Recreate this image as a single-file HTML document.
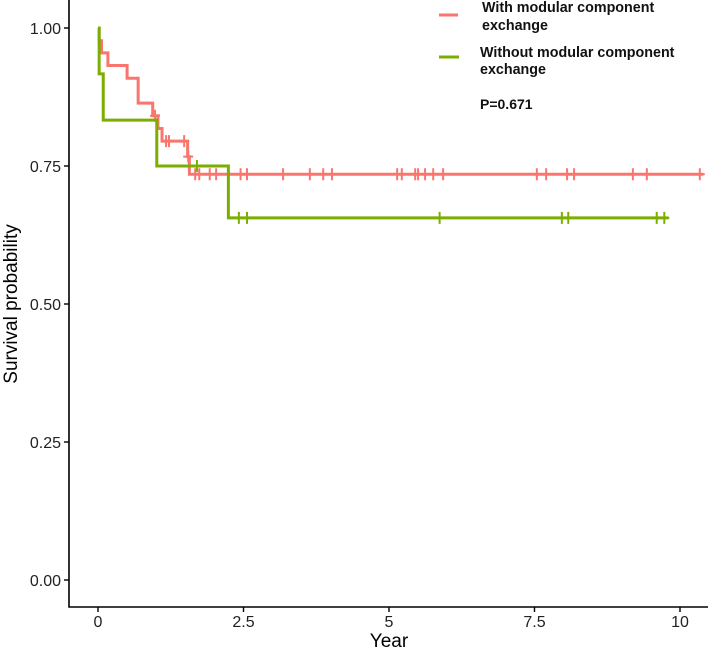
<!DOCTYPE html>
<html><head><meta charset="utf-8"><style>
body{margin:0;background:#fff;}
svg{display:block;font-family:"Liberation Sans",Arial,sans-serif;}
</style></head><body>
<svg id="chart" width="708" height="652" viewBox="0 0 708 652" xmlns="http://www.w3.org/2000/svg"></svg>
<script>
const xTicks=[0,2.5,5,7.5,10];
const xTickLabels=["0","2.5","5","7.5","10"];
const yTicks=[0,0.25,0.5,0.75,1];
const yTickLabels=["0.00","0.25","0.50","0.75","1.00"];
const withTimes=[0,0.02,0.06,0.17,0.50,0.69,0.94,1.03,1.10,1.54,1.57,10.4];
const withSurv=[1,0.977,0.955,0.932,0.909,0.864,0.841,0.818,0.795,0.767,0.735,0.735];
const withCensor=[0.98,1.17,1.22,1.48,1.55,1.67,1.74,1.92,2.03,2.45,2.56,3.18,3.64,3.87,4.02,5.14,5.22,5.45,5.50,5.62,5.76,5.93,7.54,7.70,8.06,8.18,9.19,9.43,10.34];
const withoutTimes=[0,0.02,0.09,1.01,2.24,9.8];
const withoutSurv=[1,0.917,0.833,0.75,0.656,0.656];
const withoutCensor=[1.70,2.42,2.56,5.87,7.97,8.08,9.60,9.73];

const NS="http://www.w3.org/2000/svg";
const svg=document.getElementById('chart');
const X=t=>98+t*58.2;
const Y=v=>580-v*552;
function mk(tag,attrs,parent){const e=document.createElementNS(NS,tag);for(const k in attrs)e.setAttribute(k,attrs[k]);(parent||svg).appendChild(e);return e;}

let ax=mk('path',{d:'M69,0 V607 H708',fill:'none',stroke:'#000','stroke-width':1.6});


xTicks.forEach((t,i)=>{
  const l=mk('line',{x1:X(t),x2:X(t),y1:607,y2:612,stroke:'#000','stroke-width':1.4});
  
  
  const tx=mk('text',{x:X(t),y:627,'text-anchor':'middle','font-size':16,fill:'#222'});
  tx.textContent=xTickLabels[i];
  
  
});
yTicks.forEach((v,i)=>{
  const l=mk('line',{x1:64,x2:69,y1:Y(v),y2:Y(v),stroke:'#000','stroke-width':1.4});
  
  
  const tx=mk('text',{x:61,y:Y(v)+6,'text-anchor':'end','font-size':16,fill:'#222'});
  tx.textContent=yTickLabels[i];
  
  
});
let xt=mk('text',{x:389,y:647,'text-anchor':'middle','font-size':19,fill:'#000'});
xt.textContent='Year';


let yt=mk('text',{x:0,y:0,'text-anchor':'middle','font-size':19,fill:'#000',transform:'translate(17,304) rotate(-90)'});
yt.textContent='Survival probability';



function curve(times,surv,censor,color,name){
  let d='M'+X(times[0])+','+Y(surv[0]);
  for(let i=1;i<times.length;i++){d+=' H'+X(times[i])+' V'+Y(surv[i]);}
  const p=mk('path',{d:d,fill:'none',stroke:color,'stroke-width':3});
  
  
  censor.forEach(t=>{
    let s=surv[0];
    for(let i=0;i<times.length;i++){if(times[i]<=t)s=surv[i];}
    const c=mk('path',{d:'M'+(X(t)-5)+','+Y(s)+' h10 M'+X(t)+','+(Y(s)-6)+' v12',stroke:color,'stroke-width':2});
    
    
  });
}
curve(withTimes,withSurv,withCensor,'#F8766D','with-exchange');
curve(withoutTimes,withoutSurv,withoutCensor,'#7CAE00','without-exchange');

const lg=mk('g',{});


let l1=mk('line',{x1:439,x2:458,y1:15,y2:15,stroke:'#F8766D','stroke-width':3},lg);


let l2=mk('line',{x1:439,x2:459,y1:57,y2:57,stroke:'#7CAE00','stroke-width':3},lg);


[['With modular component',482,12],['exchange',482,30],['Without modular component',480,57],['exchange',480,74]].forEach(a=>{
  const t=mk('text',{x:a[1],y:a[2],'font-size':14.3,'font-weight':'bold',fill:'#111'},lg);
  t.textContent=a[0];
  
  
});
let pv=mk('text',{x:480,y:109,'font-size':14,'font-weight':'bold',fill:'#111'});
pv.textContent='P=0.671';


</script>
</body></html>
